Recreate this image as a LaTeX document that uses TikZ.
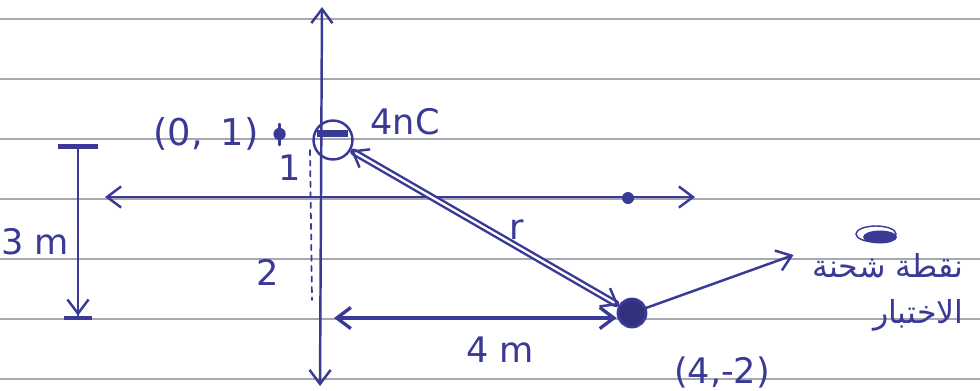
\documentclass[tikz,border=0pt]{standalone}
\usepackage{fontspec}
\setmainfont{DejaVu Sans}
\newfontfamily\arabicfont[Script=Arabic]{DejaVu Sans}
\TeXXeTstate=1
\usetikzlibrary{arrows.meta,positioning}
\definecolor{ink}{RGB}{58,58,150}
\definecolor{rule}{RGB}{168,168,178}

\begin{document}
\begin{tikzpicture}[x=0.02cm,y=-0.02cm,
pen/.style={draw=ink, line width=1.4pt, line cap=round},
tip/.style={-{Straight Barb[length=8pt,width=12pt]}},
tips/.style={{Straight Barb[length=8pt,width=12pt]}-{Straight Barb[length=8pt,width=12pt]}},
lbl/.style={text=ink, font=\fontsize{20}{22}\selectfont, inner sep=1pt},
paperline/.style={draw=rule, line width=0.9pt},]
\useasboundingbox[fill=white] (0,0) rectangle (980,390);
\foreach \y in {19,79,...,379}
    \draw[paperline] (0,\y) -- (980,\y);

% axes
\coordinate (ytop) at (322,7);
\coordinate (ybot) at (320,386);
\coordinate (xleft) at (105,197);
\coordinate (xright) at (695,197);
\draw[pen, tips] (ybot) -- (ytop);
\draw[pen, tips] (xleft) -- (xright);
\node[circle, fill=ink, inner sep=0pt, minimum size=0.24cm] (xdot) at (628,198) {};

% charges
\node[circle, draw=ink, line width=1.4pt, minimum size=0.78cm] (charge) at (333,140) {};
\draw[ink, line width=4.5pt] ([xshift=-0.32cm,yshift=0.13cm]charge.center) -- ([xshift=0.3cm,yshift=0.13cm]charge.center);
\node[circle, draw=ink, fill=ink!85!black, line width=1.6pt, minimum size=0.56cm] (test) at (632,313) {};

% labels
\node[lbl] (qlabel) at (405,122) {4nC};
\node[lbl, font=\fontsize{21}{22}\selectfont] (origin) at (206,134) {(0,\, 1)};
\node[circle, fill=ink, inner sep=0pt, minimum size=7pt, right=7pt of origin] (mark) {};
\draw[pen] ([yshift=0.2cm]mark.center) -- ([yshift=-0.22cm]mark.center);
\node[lbl] (one) at (290,168) {1};
\node[lbl] (two) at (268,272) {2};
\node[lbl] (rlabel) at (517,230) {r};
\node[lbl] (fourm) at (500,350) {4 m};
\node[lbl] (threem) at (35,242) {3 m};
\node[lbl] (target) at (722,372) {(4,-2)};
\node[text=ink, font=\arabicfont\fontsize{18}{26}\selectfont, align=right, anchor=west] (note) at (806,292)
    {\beginR نقطة شحنة\endR\\\beginR الاختبار\endR};

% connectors
\draw[pen, double=white, double distance=1.3pt, tips] (charge) -- (test);
\draw[pen, tip] (test) -- ([xshift=-0.25cm]note.west |- 0,255);
\coordinate (fourleft) at (334,318);
\draw[pen, line width=1.9pt, tips] (fourleft) -- (test.west |- fourleft);
\coordinate (dashtop) at (310,150);
\coordinate (dashbot) at (312,300);
\draw[pen, line width=1pt, dashed] (dashtop) -- (dashbot);
\coordinate (dimtop) at (78,144);
\coordinate (dimbot) at (78,320);
\draw[pen, {Bar[width=0.8cm,line width=3pt]}-{Straight Barb[length=8pt,width=12pt] Bar[width=0.55cm,line width=2.5pt]}] (dimtop) -- (dimbot);

% scribble
\fill[ink] (880,237) ellipse [x radius=0.34cm, y radius=0.13cm];
\draw[ink, line width=0.8pt] (876,234) ellipse [x radius=0.4cm, y radius=0.16cm];
\end{tikzpicture}
\end{document}
